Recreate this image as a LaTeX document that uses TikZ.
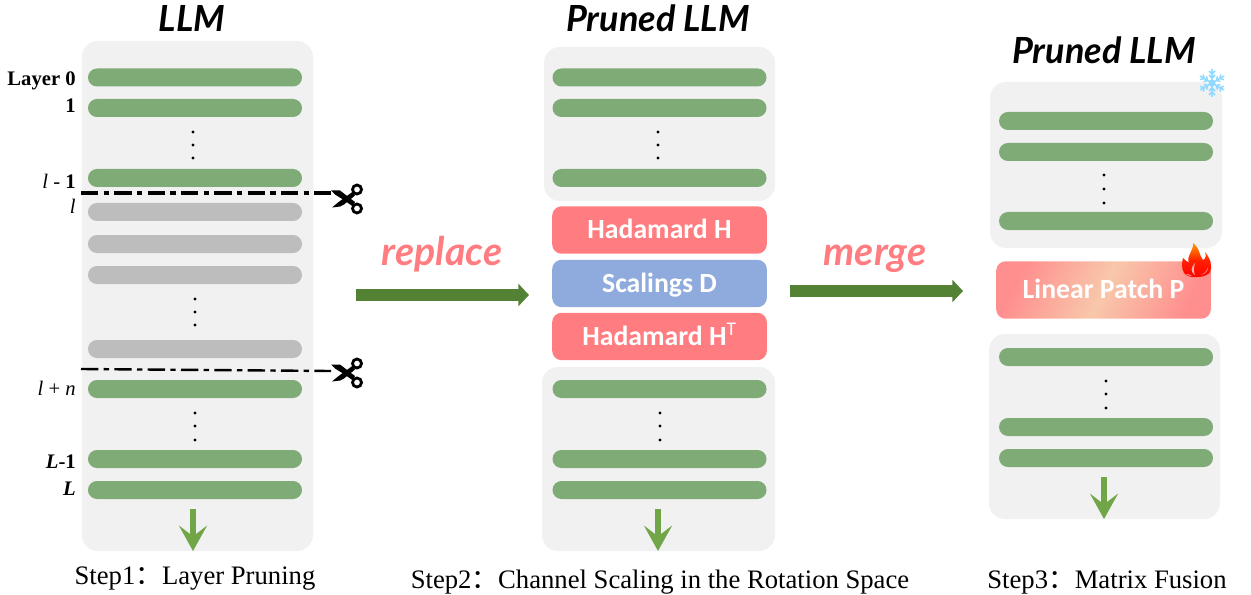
\documentclass[tikz,border=0pt]{standalone}
\usepackage{fontspec}
\setmainfont{Liberation Serif}
\newfontfamily\boxfont{Carlito}
\newfontfamily\handfont{Lato}
\newfontfamily\cjkfont{Noto Sans CJK SC}
\usetikzlibrary{arrows.meta,positioning}
\definecolor{panelgray}{HTML}{F1F1F1}
\definecolor{bargreen}{HTML}{7FAB76}
\definecolor{bargray}{HTML}{BDBDBD}
\definecolor{hadpink}{HTML}{FF7C80}
\definecolor{scaleblue}{HTML}{8FAADC}
\definecolor{bigarrow}{HTML}{548235}
\definecolor{downarrow}{HTML}{70A548}
\definecolor{flakeblue}{HTML}{8FD8FF}
\definecolor{patchpink}{HTML}{FF8F8F}
\definecolor{patchpeach}{HTML}{F8C8AA}
\tikzset{
  panel/.style={fill=panelgray,rounded corners=12pt,minimum width=#1*0.75pt,inner sep=0pt},
  layerbar/.style={fill=bargreen,rounded corners=6.7pt,minimum width=160.5pt,minimum height=13.5pt,inner sep=0pt},
  cutbar/.style={layerbar,fill=bargray},
  opbox/.style={rounded corners=7pt,minimum width=161pt,minimum height=35.5pt,inner sep=0pt,text=white,
    text height=13pt,text depth=0pt,font=\boxfont\bfseries\fontsize{20.8}{22}\selectfont},
  layerlabel/.style={anchor=east,inner sep=0pt,font=\fontsize{15.5}{17}\selectfont},
  steplabel/.style={anchor=base,inner sep=0pt,font=\fontsize{20}{22}\selectfont},
  handtitle/.style={inner sep=0pt,font=\handfont\bfseries\itshape\fontsize{27}{29}\selectfont},
  handverb/.style={anchor=base,inner sep=0pt,text=hadpink,font=\handfont\bfseries\itshape\fontsize{29.5}{31}\selectfont},
  mainarrow/.style={bigarrow,line width=8.5pt,-{Triangle[length=8pt,width=16.5pt]}},
  outarrow/.style={downarrow,line width=5pt,-{Stealth[length=19pt,width=21pt,inset=8pt]}},
  pics/scissors/.style={code={
    \draw[line width=2.1pt] (9,-10) circle (4.5);
    \draw[line width=2.1pt] (9,9) circle (4.5);
    \fill (-17,-9) -- (-8,-9) -- (7,2.5) -- (5,7) -- (-5,0) -- (-13,-5) -- cycle;
    \fill (-16,8) -- (-10,3) -- (5,-8) -- (7,-4) -- (-4,5) -- (-8,7) -- cycle;
  }},
  pics/snowflake/.style={code={
    \foreach \a in {30,90,...,330}{
      \draw[flakeblue,line width=1.1pt,rotate=\a] (0,0) -- (14,0)
        (5,0) -- (8,-3) (5,0) -- (8,3) (9,0) -- (12,-3) (9,0) -- (12,3);
    }
    \fill[flakeblue] (0,0) circle (3.5);
  }},
  pics/flame/.style={code={
    \shade[top color=orange!80!yellow,bottom color=red,middle color=red!75!orange]
      (-3,-19) .. controls (5,-12) and (3,-6) .. (7,-2)
      .. controls (10,-3) and (10,-7) .. (9,-10)
      .. controls (14,-4) and (17,4) .. (14,10)
      .. controls (12,13) and (7,15) .. (2,15)
      .. controls (-4,16) and (-10,14) .. (-12,11)
      .. controls (-15,5) and (-14,1) .. (-13,-4)
      .. controls (-11,-2) and (-9,0) .. (-7,1)
      .. controls (-10,-7) and (-2,-11) .. (-3,-19) -- cycle;
    \fill[patchpink!70!white] (-1,13) .. controls (-6,10) and (-5,5) .. (-1,1)
      .. controls (-2,5) and (-3,9) .. (-1,13) -- cycle;
    \fill[patchpink!70!white] (-10,12) .. controls (-7,12) and (-6,13) .. (-4,14)
      .. controls (-7,14) and (-9,13) .. (-10,12) -- cycle;
    \fill[patchpink!70!white] (5,13) .. controls (9,12) and (12,9) .. (12,5)
      .. controls (11,9) and (9,11) .. (5,13) -- cycle;
  }}
}
\begin{document}
\begin{tikzpicture}[x=0.75pt,y=-0.75pt]
\useasboundingbox (0,0) rectangle (1251,595);
% panels
\node[panel=231,minimum height=382.5pt] (pA) at (197.5,296) {};
\node[panel=231,minimum height=115.5pt] (pB) at (659.5,124) {};
\node[panel=233,minimum height=138pt] (pC) at (658.5,459) {};
\node[panel=232,minimum height=124.5pt] (pD) at (1106,165) {};
\node[panel=231,minimum height=138.75pt] (pE) at (1104.5,426.5) {};
% first column
\node[layerbar] (a0) at (195,77.5) {};
\node[layerbar] (a1) at (195,108) {};
\node[layerbar] (a2) at (195,178) {};
\node[cutbar] (a3) at (195,212) {};
\node[cutbar] (a4) at (195,244) {};
\node[cutbar] (a5) at (195,275) {};
\node[cutbar] (a6) at (195,349) {};
\node[layerbar] (a7) at (195,389) {};
\node[layerbar] (a8) at (195,459) {};
\node[layerbar] (a9) at (195,490) {};
% second column
\node[layerbar] (b0) at (659.5,77.5) {};
\node[layerbar] (b1) at (659.5,108) {};
\node[layerbar] (b2) at (659.5,178) {};
\node[opbox,fill=hadpink] (had1) at (659.5,230) {Hadamard H};
\node[opbox,fill=scaleblue] (scal) at (659.5,283.5) {Scalings D};
\node[opbox,fill=hadpink] (had2) at (659.5,336.5) {Hadamard H\textsuperscript{\mdseries T}};
\node[layerbar] (b3) at (659.5,389) {};
\node[layerbar] (b4) at (659.5,459) {};
\node[layerbar] (b5) at (659.5,490) {};
% third column
\node[layerbar] (c0) at (1106,121) {};
\node[layerbar] (c1) at (1106,152) {};
\node[layerbar] (c2) at (1106,221) {};
\node[opbox,minimum height=43pt,left color=patchpink,right color=patchpink,middle color=patchpeach,shading angle=65] (patch) at (1103.5,290) {Linear Patch P};
\node[layerbar] (c3) at (1106,357) {};
\node[layerbar] (c4) at (1106,427) {};
\node[layerbar] (c5) at (1106,458) {};
% dots
\foreach \xx/\yy in {193/132,193/145,193/158,195/299,195/312,195/325,195/413,195/426,195/440,
  658/132,658/145,658/158,660/413,660/426,660/440,1104/175,1104/189,1104/203,1106/381,1106/394,1106/408}
  \fill (\xx,\yy) circle (1.6);
% labels of the layers
\node[layerlabel] (l0) at (76,80.5) {\textbf{Layer 0}};
\node[layerlabel] (l1) at (76,105.5) {\textbf{1}};
\node[layerlabel] (l2) at (76,181.5) {\textit{l} - \textbf{1}};
\node[layerlabel] (l3) at (76,206) {\textit{l}};
\node[layerlabel] (l4) at (76,388.5) {\textit{l} + \textit{n}};
\node[layerlabel] (l5) at (76,462) {\textbf{\textit{L}-1}};
\node[layerlabel] (l6) at (76,489) {\textbf{\textit{L}}};
% cuts
\pic (sc1) at (348,199.5) {scissors};
\pic (sc2) at (348,373.5) {scissors};
\coordinate (cut1a) at (81,193);
\coordinate (cut1b) at (331,193);
\coordinate (cut2a) at (81,369);
\coordinate (cut2b) at (331,371);
\draw[line width=3pt,dash pattern=on 13pt off 4pt on 4pt off 4pt] (cut1a) -- (cut1b);
\draw[line width=1.8pt,dash pattern=on 13pt off 4pt on 4pt off 4pt] (cut2a) -- (cut2b);
% arrows
\coordinate (r0) at (356,295);
\coordinate (r1) at (529,295);
\coordinate (m0) at (790,291);
\coordinate (m1) at (963,291);
\draw[mainarrow] (r0) -- (r1);
\draw[mainarrow] (m0) -- (m1);
\coordinate (o1a) at (193,509);
\coordinate (o1b) at (193,551);
\coordinate (o2a) at (658,509);
\coordinate (o2b) at (658,551);
\coordinate (o3a) at (1104,477);
\coordinate (o3b) at (1104,519);
\draw[outarrow] (o1a) -- (o1b);
\draw[outarrow] (o2a) -- (o2b);
\draw[outarrow] (o3a) -- (o3b);
% texts
\node[handtitle] (t1) at (192,18) {LLM};
\node[handtitle] (t2) at (658,18) {Pruned LLM};
\node[handtitle] (t3) at (1104,50) {Pruned LLM};
\node[handverb] (v1) at (442,265) {replace};
\node[handverb] (v2) at (875,265) {merge};
\node[steplabel] (s1) at (195,584) {Step1{\cjkfont：}Layer Pruning};
\node[steplabel] (s2) at (660,588) {Step2{\cjkfont：}Channel Scaling in the Rotation Space};
\node[steplabel] (s3) at (1107,588) {Step3{\cjkfont：}Matrix Fusion};
% icons
\pic (flake) at (1212,83) {snowflake};
\pic (fire) at (1196,262) {flame};
\end{tikzpicture}
\end{document}
